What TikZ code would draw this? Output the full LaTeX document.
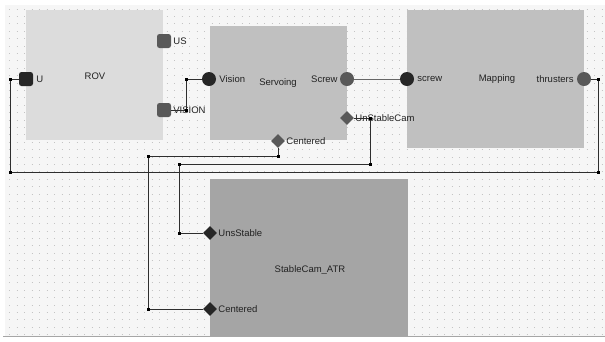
\documentclass[tikz,border=0pt]{standalone}
\usepackage{fontspec}
\setmainfont{Liberation Sans}
\usetikzlibrary{shapes.geometric}
\definecolor{canvasbg}{HTML}{F6F6F6}
\definecolor{griddot}{HTML}{C4C4C4}
\definecolor{rovfill}{HTML}{DCDCDC}
\definecolor{modfill}{HTML}{C0C0C0}
\definecolor{atrfill}{HTML}{A5A5A5}
\definecolor{portdark}{HTML}{262626}
\definecolor{portgrey}{HTML}{595959}
\definecolor{wirecol}{HTML}{2E2E2E}
\definecolor{txtcol}{HTML}{222222}
\tikzset{
  block/.style  = {anchor=north west, inner sep=0pt, draw=none},
  btitle/.style = {font=\fontsize{9.5}{11}\selectfont, text=txtcol, inner sep=0pt},
  plbl/.style   = {font=\fontsize{9.5}{11}\selectfont, text=txtcol, inner sep=0pt},
  port/.style   = {inner sep=0pt, minimum size=14pt, draw=none},
  cport/.style  = {port, circle},
  sport/.style  = {port, rectangle, rounded corners=2.5pt, minimum size=14pt},
  dport/.style  = {port, diamond, minimum size=14pt},
  wire/.style   = {draw=wirecol, line width=0.9pt},
  jdot/.style   = {fill=black, inner sep=0pt, minimum size=3pt},
  griddots/.style = {draw=griddot, line width=0.9pt, dash pattern=on 0.9pt off 6.6pt},
}

\begin{document}
\begin{tikzpicture}[x=1pt, y=-1pt]
  \useasboundingbox (0,0) rectangle (605,341);
  \fill[white] (0,0) rectangle (605,341);
  \fill[canvasbg] (5,5) rectangle (605,336);
  \foreach \y in {9,16.4,...,335}
    \draw[griddots] (9,\y) -- (605,\y);
  \draw[draw=gray!70, line width=0.8pt] (3,336) -- (605,336);

  % --- blocks ---
  \node[block, fill=rovfill, minimum width=137pt, minimum height=130pt] (rov) at (26,10) {};
  \node[btitle] at (95,76) {ROV};
  \node[block, fill=modfill, minimum width=137pt, minimum height=114pt] (servo) at (210,26) {};
  \node[btitle] at (278,83) {Servoing};
  \node[block, fill=modfill, minimum width=177pt, minimum height=138pt] (mapping) at (407,10) {};
  \node[btitle] at (497,79) {Mapping};
  \node[block, fill=atrfill, minimum width=198pt, minimum height=157pt] (atr) at (210,179) {};
  \node[btitle] at (310,270) {StableCam\_ATR};

  % --- junction points ---
  \coordinate (tA) at (598,79);
  \coordinate (tB) at (598,172);
  \coordinate (tC) at (10,172);
  \coordinate (tD) at (10,79);
  \coordinate (vA) at (186,110);
  \coordinate (vB) at (186,79);
  \coordinate (cA) at (278,156);
  \coordinate (cB) at (148,156);
  \coordinate (cC) at (148,309);
  \coordinate (uA) at (370,118);
  \coordinate (uB) at (370,164);
  \coordinate (uC) at (179,164);
  \coordinate (uD) at (179,233);

  % --- ports ---
  \node[sport, fill=portdark, label={[plbl, label distance=3pt]right:U}] (u) at (26,79) {};
  \node[sport, fill=portgrey, label={[plbl, label distance=2pt]right:US}] (us) at (164,41) {};
  \node[sport, fill=portgrey, label={[plbl, label distance=2pt]right:VISION}] (visout) at (164,110) {};
  \node[cport, fill=portdark, label={[plbl, label distance=3pt]right:Vision}] (visin) at (209,79) {};
  \node[cport, fill=portgrey, label={[plbl, label distance=2pt]left:Screw}] (screwout) at (347,79) {};
  \node[dport, fill=portgrey, label={[plbl, label distance=1pt]right:UnStableCam}] (unstout) at (347,118) {};
  \node[dport, fill=portgrey, label={[plbl, label distance=1pt]right:Centered}] (cenout) at (278,141) {};
  \node[cport, fill=portdark, label={[plbl, label distance=3pt]right:screw}] (screwin) at (407,79) {};
  \node[cport, fill=portgrey, label={[plbl, label distance=3pt]left:thrusters}] (thr) at (584,79) {};
  \node[dport, fill=portdark, label={[plbl, label distance=1pt]right:UnsStable}] (unstin) at (210,233) {};
  \node[dport, fill=portdark, label={[plbl, label distance=1pt]right:Centered}] (cenin) at (210,309) {};

  % --- wires ---
  \draw[wire] (thr.east) -- (tA) -- (tB) -- (tC) -- (tD) -- (u.west);
  \draw[wire] (visout.east) -- (vA) -- (vB) -- (visin.west);
  \draw[wire, draw=gray!80!black] (screwout.east) -- (screwin.west);
  \draw[wire] (cenout.south) -- (cA) -- (cB) -- (cC) -- (cenin.west);
  \draw[wire] (unstout.east) -- (uA) -- (uB) -- (uC) -- (uD) -- (unstin.west);
  \foreach \c in {tA,tB,tC,tD,vA,vB,cA,cB,cC,uA,uB,uC,uD}
    \node[jdot] at (\c) {};
\end{tikzpicture}
\end{document}
